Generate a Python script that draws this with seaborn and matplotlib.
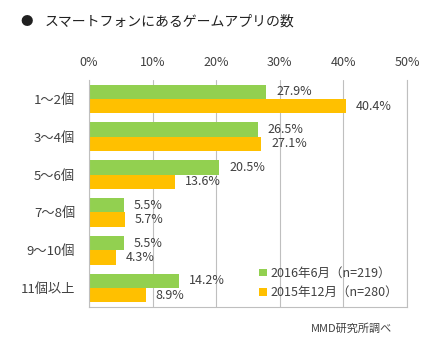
import pandas as pd
import matplotlib.pyplot as plt
import seaborn as sns

# Data
categories = ["1～2個", "3～4個", "5～6個", "7～8個", "9～10個", "11個以上"]
series_names = ["2016年6月（n=219）", "2015年12月（n=280）"]
jun_2016 = [27.9, 26.5, 20.5, 5.5, 5.5, 14.2]
dec_2015 = [40.4, 27.1, 13.6, 5.7, 4.3, 8.9]
xticks = [0, 10, 20, 30, 40, 50]

df = pd.DataFrame({
    "category": categories * 2,
    "series": [series_names[0]] * len(categories) + [series_names[1]] * len(categories),
    "value": jun_2016 + dec_2015,
})

sns.set_style("white")
plt.rcParams["font.family"] = ["Noto Sans CJK JP", "DejaVu Sans"]

fig = plt.figure(figsize=(4.31, 3.53), dpi=100)
ax = fig.add_axes([89 / 431, 1 - 307 / 353, (407 - 89) / 431, (307 - 80) / 353])

sns.barplot(
    data=df, x="value", y="category", hue="series",
    order=categories, hue_order=series_names,
    palette=["#92D050", "#FFC000"], width=0.76, gap=0,
    saturation=1, linewidth=0, ax=ax, orient="h",
)

for cont in ax.containers:
    ax.bar_label(cont, labels=[f"{v:.1f}%" for v in cont.datavalues],
                 padding=7, fontsize=9, color="#404040")

ax.set_xlim(0, 50)
ax.set_xticks(xticks)
ax.set_xticklabels([f"{t}%" for t in xticks], fontsize=9, color="#404040")
ax.xaxis.tick_top()
ax.tick_params(axis="x", length=0, pad=8)
ax.tick_params(axis="y", length=0, pad=10, labelsize=9.5, labelcolor="#404040")
ax.grid(axis="x", color="#BFBFBF", linewidth=0.8)
ax.set_axisbelow(True)
ax.set_xlabel("")
ax.set_ylabel("")
for side in ["left", "bottom", "right"]:
    ax.spines[side].set_color("#BFBFBF")
    ax.spines[side].set_linewidth(0.8)
ax.spines["top"].set_visible(False)

ax.legend(loc="lower left", bbox_to_anchor=((248 - 89) / 318, -0.015), frameon=False,
          fontsize=9, handlelength=0.6, handleheight=0.6, handletextpad=0.3,
          labelspacing=0.5, labelcolor="#404040")

fig.text(20 / 431, 1 - 22 / 353, "●", fontsize=9, va="center", color="#202020")
fig.text(45 / 431, 1 - 22 / 353, "スマートフォンにあるゲームアプリの数",
         fontsize=10, va="center", color="#202020")
fig.text(352 / 431, 1 - 329 / 353, "MMD研究所調べ", fontsize=8,
         ha="center", va="center", color="#404040")

fig.savefig("out.png", dpi=100)
